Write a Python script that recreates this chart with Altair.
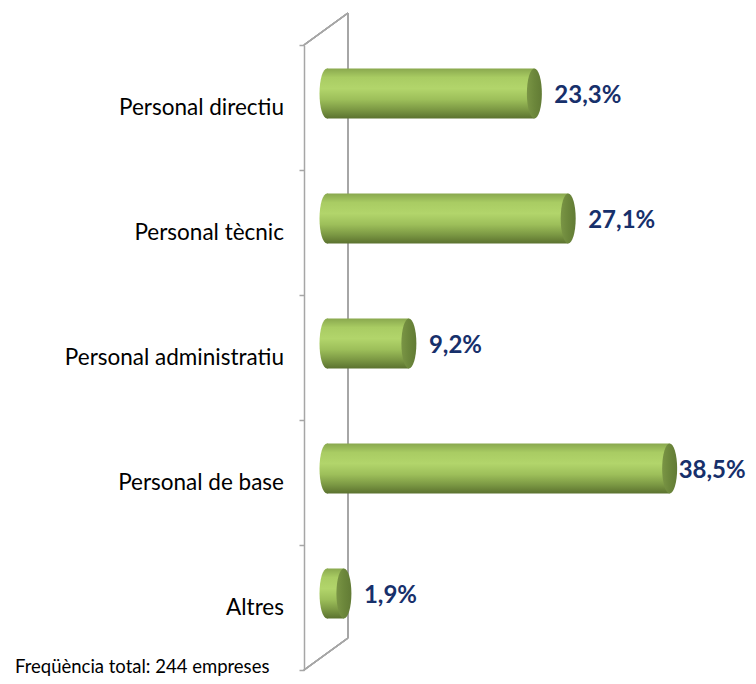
import altair as alt
import pandas as pd

categories = ["Personal directiu", "Personal tècnic", "Personal administratiu", "Personal de base", "Altres"]
values = [23.3, 27.1, 9.2, 38.5, 1.9]
value_labels = ["23,3%", "27,1%", "9,2%", "38,5%", "1,9%"]
footnote = "Freqüència total: 244 empreses"

df = pd.DataFrame({"cat": categories, "val": values, "lab": value_labels, "zero": [0] * len(values)})
foot_df = pd.DataFrame({"t": [footnote]})

WALL = "#a6a6a6"
FONT = "Lato"
BAR_Y_OFF = -14
BAR_H = 50

y_axis = alt.Axis(labels=False, title=None, domainColor=WALL, domainWidth=1.5,
                  tickColor=WALL, tickWidth=1.5, tickSize=5, tickBand="extent", grid=False)
y_enc = alt.Y("cat:N", sort=categories,
              scale=alt.Scale(paddingInner=0, paddingOuter=0), axis=y_axis)
x_scale = alt.Scale(domain=[0, 40], range=[23, 379])

bar_grad = alt.Gradient(
    gradient="linear", x1=0, x2=0, y1=0, y2=1,
    stops=[
        alt.GradientStop(color="#89a84e", offset=0),
        alt.GradientStop(color="#a9cc63", offset=0.18),
        alt.GradientStop(color="#b2d56b", offset=0.4),
        alt.GradientStop(color="#9dbf5a", offset=0.62),
        alt.GradientStop(color="#7c9944", offset=0.82),
        alt.GradientStop(color="#5b722f", offset=1),
    ],
)
cap_grad = alt.Gradient(
    gradient="linear", x1=0, x2=1, y1=0, y2=0,
    stops=[
        alt.GradientStop(color="#7a9545", offset=0),
        alt.GradientStop(color="#6c873b", offset=0.5),
        alt.GradientStop(color="#627b35", offset=1),
    ],
)

ELLIPSE = "M0,-1 A0.3,1 0 1,1 0,1 A0.3,1 0 1,1 0,-1 Z"

base = alt.Chart(df)

# 3D wall lines (decoration)
wall_top = base.mark_rule(color=WALL, strokeWidth=1.5).encode(
    x=alt.value(0), x2=alt.value(44), y=alt.value(0), y2=alt.value(-32))
wall_right = base.mark_rule(color=WALL, strokeWidth=1.5).encode(
    x=alt.value(44), x2=alt.value(44), y=alt.value(-32), y2=alt.value(593))
wall_bottom = base.mark_rule(color=WALL, strokeWidth=1.5).encode(
    x=alt.value(0), x2=alt.value(44), y=alt.value(625), y2=alt.value(593))

left_cap = base.mark_point(shape=ELLIPSE, size=BAR_H * BAR_H, filled=True, opacity=1,
                           strokeWidth=0, color=bar_grad, yOffset=BAR_Y_OFF).encode(
    x=alt.X("zero:Q", scale=x_scale, axis=None), y=y_enc)

bars = base.mark_bar(color=bar_grad, size=BAR_H, yOffset=BAR_Y_OFF).encode(
    x=alt.X("zero:Q", scale=x_scale, axis=None), x2="val:Q", y=y_enc)

right_cap = base.mark_point(shape=ELLIPSE, size=BAR_H * BAR_H, filled=True, opacity=1,
                            strokeWidth=0, color=cap_grad, yOffset=BAR_Y_OFF).encode(
    x=alt.X("val:Q", scale=x_scale, axis=None), y=y_enc)

def value_text(dx):
    return base.mark_text(align="left", baseline="middle", dx=dx, yOffset=BAR_Y_OFF + 2,
                          font=FONT, fontSize=24, fontWeight="bold", color="#17306b").encode(
        x=alt.X("val:Q", scale=x_scale, axis=None), y=y_enc, text="lab:N")

val_text_short = value_text(20).transform_filter("datum.val < 35")
val_text_long = value_text(9).transform_filter("datum.val >= 35")

cat_text = base.mark_text(align="right", baseline="middle", font=FONT, fontSize=22.5,
                          color="#000000").encode(
    x=alt.value(-20), y=y_enc, text="cat:N")

foot = alt.Chart(foot_df).mark_text(align="left", baseline="alphabetic", font=FONT,
                                    fontSize=18.5, color="#000000").encode(
    x=alt.value(-289), y=alt.value(628), text="t:N")

chart = alt.layer(
    wall_top, wall_right, wall_bottom, left_cap, bars, right_cap,
    val_text_short, val_text_long, cat_text, foot
).properties(
    width=440, height=625,
    autosize=alt.AutoSizeParams(type="none"),
    padding={"left": 296, "top": 37, "right": 4, "bottom": 6},
).configure_view(stroke=None)

chart.save("out.html", embed_options={"renderer": "svg", "actions": False})
